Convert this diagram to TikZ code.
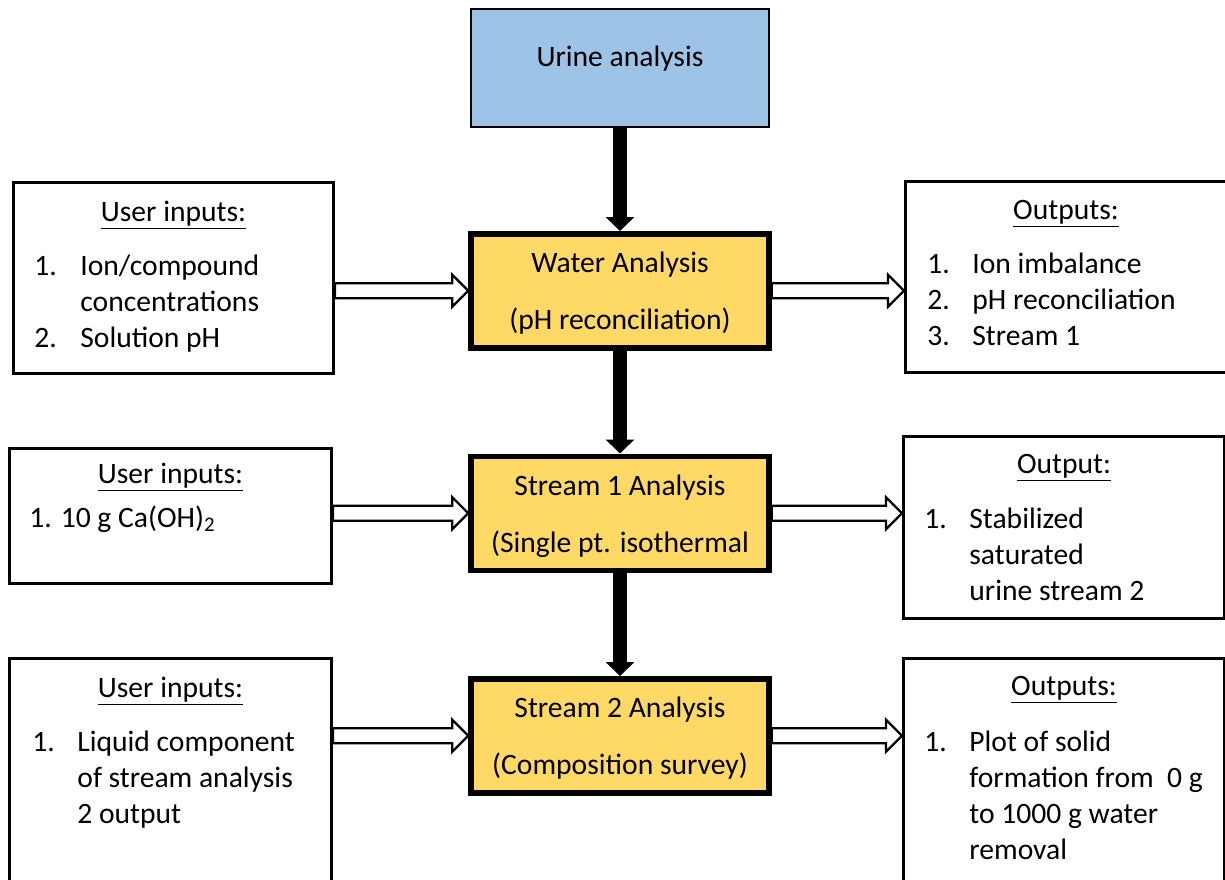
\documentclass[tikz,border=0pt]{standalone}
\usepackage{fontspec}
\setmainfont{Carlito}
\usepackage{xcolor}
\usepackage{tikz}
\usetikzlibrary{positioning,arrows.meta,calc}

\definecolor{urineblue}{HTML}{9DC3E6}
\definecolor{stageyellow}{HTML}{FFD966}

% hollow block arrow from #1 to #2, at the height of #3
\newcommand{\blockarr}[3]{%
  \draw[hollow] ($(#1.east |- #3)+(0,3.75pt)$) -- ($(#2.west |- #3)+(-8pt,3.75pt)$)
    -- ($(#2.west |- #3)+(-8pt,8pt)$) -- (#2.west |- #3)
    -- ($(#2.west |- #3)+(-8pt,-8pt)$) -- ($(#2.west |- #3)+(-8pt,-3.75pt)$)
    -- ($(#1.east |- #3)+(0,-3.75pt)$) -- cycle;}

\begin{document}
\begin{tikzpicture}[
    x=0.5pt, y=-0.5pt,
    node distance=51.5pt,
    every node/.style={font=\fontsize{14.8}{18}\selectfont},
    stage/.style={draw, line width=2.75pt, fill=stageyellow, minimum width=149pt,
                  minimum height=57pt, align=center, text depth=0pt},
    side/.style={draw, line width=1.3pt},
    head/.style={inner sep=0pt},
    items/.style={inner sep=0pt, align=left},
    feed/.style={line width=7pt, -{Triangle[width=14pt, length=7pt]}},
    hollow/.style={line width=1.2pt, draw, fill=white, line join=miter},
  ]
  \useasboundingbox (0,0) rectangle (1225,879);
  \clip (0,0) rectangle (1225,879);

  % Main column
  \node[draw, line width=1pt, fill=urineblue, minimum width=149pt, minimum height=59pt,
        text height=9pt, text depth=11pt] (urine) at (620,68) {Urine analysis};
  \node[stage, below=of urine] (water) {Water Analysis\\[10.5pt](pH reconciliation)};
  \node[stage, below=of water] (strm1) {Stream 1 Analysis\\[10.5pt](Single pt. isothermal};
  \node[stage, below=of strm1] (strm2) {Stream 2 Analysis\\[10.5pt](Composition survey)};

  % Inputs (left)
  \node[side, minimum width=160.2pt, minimum height=95.7pt] (in1) at (173.5,278) {};
  \node[head, below=20pt of in1.north, anchor=base] (in1t) {\underline{User inputs:}};
  \node[items, below right=47pt and 11pt of in1.north west, anchor=base west] (in1l)
        {\begin{tabular}[t]{@{}p{23pt}@{}l@{}}
           1. & Ion/compound\\ & concentrations\\ 2. & Solution pH
         \end{tabular}};

  \node[side, minimum width=161.2pt, minimum height=67.7pt] (in2) at (170.5,516) {};
  \node[head, below=18pt of in2.north, anchor=base] (in2t) {\underline{User inputs:}};
  \node[items, below right=40pt and 10.5pt of in2.north west, anchor=base west] (in2l)
        {1. 10 g Ca(OH)\textsubscript{2}};

  \node[side, minimum width=161.2pt, minimum height=120.2pt] (in3) at (170.5,778.5) {};
  \node[head, below=20pt of in3.north, anchor=base] (in3t) {\underline{User inputs:}};
  \node[items, below right=47pt and 12pt of in3.north west, anchor=base west] (in3l)
        {\begin{tabular}[t]{@{}p{22.5pt}@{}l@{}}
           1. & Liquid component\\ & of stream analysis\\ & 2 output
         \end{tabular}};

  % Outputs (right)
  \node[side, minimum width=160.7pt, minimum height=95.7pt] (out1) at (1066,277) {};
  \node[head, below=19.5pt of out1.north, anchor=base] (out1t) {\underline{Outputs:}};
  \node[items, below right=46.5pt and 11.5pt of out1.north west, anchor=base west] (out1l)
        {\begin{tabular}[t]{@{}p{22.5pt}@{}l@{}}
           1. & Ion imbalance\\ 2. & pH reconciliation\\ 3. & Stream 1
         \end{tabular}};

  \node[side, minimum width=160.7pt, minimum height=91.2pt] (out2) at (1064,527.5) {};
  \node[head, below=19pt of out2.north, anchor=base] (out2t) {\underline{Output:}};
  \node[items, below right=46.5pt and 11pt of out2.north west, anchor=base west] (out2l)
        {\begin{tabular}[t]{@{}p{22.5pt}@{}l@{}}
           1. & Stabilized\\ & saturated\\ & urine stream 2
         \end{tabular}};

  \node[side, minimum width=160.7pt, minimum height=120.2pt] (out3) at (1064,778.5) {};
  \node[head, below=19pt of out3.north, anchor=base] (out3t) {\underline{Outputs:}};
  \node[items, below right=47pt and 11pt of out3.north west, anchor=base west] (out3l)
        {\begin{tabular}[t]{@{}p{22.5pt}@{}l@{}}
           1. & Plot of solid\\ & formation from\ \ 0 g\\ & to 1000 g water\\ & removal
         \end{tabular}};

  % Main flow
  \draw[feed] (urine.south) -- (water.north);
  \draw[feed] (water.south) -- (strm1.north);
  \draw[feed] (strm1.south) -- (strm2.north);

  % Side flows
  \blockarr{in1}{water}{water}
  \blockarr{water}{out1}{water}
  \blockarr{in2}{strm1}{strm1}
  \blockarr{strm1}{out2}{strm1}
  \blockarr{in3}{strm2}{strm2}
  \blockarr{strm2}{out3}{strm2}
\end{tikzpicture}
\end{document}
